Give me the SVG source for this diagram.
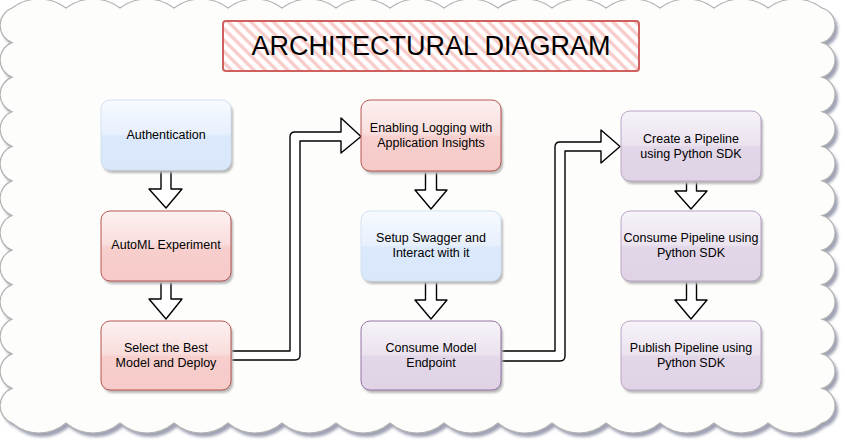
<svg xmlns="http://www.w3.org/2000/svg" width="845" height="446" viewBox="0 0 845 446">
<defs>
<style>
.lbl{font-family:"Liberation Sans","DejaVu Sans",sans-serif;font-size:12.5px;fill:#000;text-anchor:middle;dominant-baseline:central}
.title{font-family:"Liberation Sans","DejaVu Sans",sans-serif;font-size:27px;fill:#000;text-anchor:middle;dominant-baseline:central}
.shadow{fill:#b8b8b8}
.arrow{fill:#fff;stroke:#000;stroke-width:1.4;stroke-linejoin:round}
.blue{fill:url(#gBlue);stroke:#d3e0f3;stroke-width:1}
.red{fill:url(#gRed);stroke:#b85450;stroke-width:1}
.purple{fill:url(#gPurple);stroke:#9673a6;stroke-width:1}
.purple2{fill:url(#gPurple);stroke:#b9a4c5;stroke-width:1}
</style>
<linearGradient id="gBlue" x1="0" y1="0" x2="0" y2="1">
<stop offset="0" stop-color="#f7faff"/><stop offset="0.48" stop-color="#e8f0fc"/><stop offset="0.52" stop-color="#dce9fc"/><stop offset="1" stop-color="#d9e7fb"/>
</linearGradient>
<linearGradient id="gRed" x1="0" y1="0" x2="0" y2="1">
<stop offset="0" stop-color="#fdf1f1"/><stop offset="0.48" stop-color="#f9dddc"/><stop offset="0.52" stop-color="#f7cfcd"/><stop offset="1" stop-color="#f6cac8"/>
</linearGradient>
<linearGradient id="gPurple" x1="0" y1="0" x2="0" y2="1">
<stop offset="0" stop-color="#f7f3f9"/><stop offset="0.48" stop-color="#ebe3ef"/><stop offset="0.52" stop-color="#e2d7e8"/><stop offset="1" stop-color="#dfd3e5"/>
</linearGradient>
<pattern id="hatch" width="8" height="8" patternUnits="userSpaceOnUse" patternTransform="rotate(-45)">
<rect width="8" height="8" fill="#ffffff"/>
<line x1="2" y1="0" x2="2" y2="8" stroke="#f7c9c7" stroke-width="3.2"/>
</pattern>
<filter id="blur" x="-5%" y="-5%" width="110%" height="110%"><feGaussianBlur stdDeviation="1.5"/></filter>
<filter id="nblur" x="-10%" y="-10%" width="120%" height="130%"><feGaussianBlur stdDeviation="0.8"/></filter>
</defs>

<g id="cloud">
<path transform="translate(3,4)" filter="url(#blur)" fill="#9ea1b4" d="M12 8a45 45 0 0 1 54 0a45 45 0 0 1 54 0a45 45 0 0 1 54 0a45 45 0 0 1 54 0a45 45 0 0 1 54 0a45 45 0 0 1 54 0a45 45 0 0 1 54 0a45 45 0 0 1 54 0a45 45 0 0 1 54 0a45 45 0 0 1 54 0a45 45 0 0 1 54 0a45 45 0 0 1 54 0a45 45 0 0 1 54 0a45 45 0 0 1 54 0a45 45 0 0 1 54 0a18 18 0 0 1 0 34.583a18 18 0 0 1 0 34.583a18 18 0 0 1 0 34.583a18 18 0 0 1 0 34.583a18 18 0 0 1 0 34.583a18 18 0 0 1 0 34.583a18 18 0 0 1 0 34.583a18 18 0 0 1 0 34.583a18 18 0 0 1 0 34.583a18 18 0 0 1 0 34.583a18 18 0 0 1 0 34.583a18 18 0 0 1 0 34.583a41.5 41.5 0 0 1 -54 0a41.5 41.5 0 0 1 -54 0a41.5 41.5 0 0 1 -54 0a41.5 41.5 0 0 1 -54 0a41.5 41.5 0 0 1 -54 0a41.5 41.5 0 0 1 -54 0a41.5 41.5 0 0 1 -54 0a41.5 41.5 0 0 1 -54 0a41.5 41.5 0 0 1 -54 0a41.5 41.5 0 0 1 -54 0a41.5 41.5 0 0 1 -54 0a41.5 41.5 0 0 1 -54 0a41.5 41.5 0 0 1 -54 0a41.5 41.5 0 0 1 -54 0a41.5 41.5 0 0 1 -54 0a18.5 18.5 0 0 1 0 -34.583a18.5 18.5 0 0 1 0 -34.583a18.5 18.5 0 0 1 0 -34.583a18.5 18.5 0 0 1 0 -34.583a18.5 18.5 0 0 1 0 -34.583a18.5 18.5 0 0 1 0 -34.583a18.5 18.5 0 0 1 0 -34.583a18.5 18.5 0 0 1 0 -34.583a18.5 18.5 0 0 1 0 -34.583a18.5 18.5 0 0 1 0 -34.583a18.5 18.5 0 0 1 0 -34.583a18.5 18.5 0 0 1 0 -34.583z"/>
<path fill="#fdfdfc" stroke="#b3b3b3" stroke-width="1.2" d="M12 8a45 45 0 0 1 54 0a45 45 0 0 1 54 0a45 45 0 0 1 54 0a45 45 0 0 1 54 0a45 45 0 0 1 54 0a45 45 0 0 1 54 0a45 45 0 0 1 54 0a45 45 0 0 1 54 0a45 45 0 0 1 54 0a45 45 0 0 1 54 0a45 45 0 0 1 54 0a45 45 0 0 1 54 0a45 45 0 0 1 54 0a45 45 0 0 1 54 0a45 45 0 0 1 54 0a18 18 0 0 1 0 34.583a18 18 0 0 1 0 34.583a18 18 0 0 1 0 34.583a18 18 0 0 1 0 34.583a18 18 0 0 1 0 34.583a18 18 0 0 1 0 34.583a18 18 0 0 1 0 34.583a18 18 0 0 1 0 34.583a18 18 0 0 1 0 34.583a18 18 0 0 1 0 34.583a18 18 0 0 1 0 34.583a18 18 0 0 1 0 34.583a41.5 41.5 0 0 1 -54 0a41.5 41.5 0 0 1 -54 0a41.5 41.5 0 0 1 -54 0a41.5 41.5 0 0 1 -54 0a41.5 41.5 0 0 1 -54 0a41.5 41.5 0 0 1 -54 0a41.5 41.5 0 0 1 -54 0a41.5 41.5 0 0 1 -54 0a41.5 41.5 0 0 1 -54 0a41.5 41.5 0 0 1 -54 0a41.5 41.5 0 0 1 -54 0a41.5 41.5 0 0 1 -54 0a41.5 41.5 0 0 1 -54 0a41.5 41.5 0 0 1 -54 0a41.5 41.5 0 0 1 -54 0a18.5 18.5 0 0 1 0 -34.583a18.5 18.5 0 0 1 0 -34.583a18.5 18.5 0 0 1 0 -34.583a18.5 18.5 0 0 1 0 -34.583a18.5 18.5 0 0 1 0 -34.583a18.5 18.5 0 0 1 0 -34.583a18.5 18.5 0 0 1 0 -34.583a18.5 18.5 0 0 1 0 -34.583a18.5 18.5 0 0 1 0 -34.583a18.5 18.5 0 0 1 0 -34.583a18.5 18.5 0 0 1 0 -34.583a18.5 18.5 0 0 1 0 -34.583z"/>
</g>

<g id="title">
<rect x="223" y="21" width="416" height="50" rx="3" fill="url(#hatch)" stroke="#d0605e" stroke-width="2"/>
<text class="title" x="431" y="46">ARCHITECTURAL DIAGRAM</text>
</g>

<g id="connectors">
<path class="arrow" d="M161 171V189H149L166 208L182 189H171V171Z"/>
<path class="arrow" d="M161 281V299H149L166 319L182 299H171V281Z"/>
<path class="arrow" d="M425.5 171V190H415L431 209L447 190H436.5V171Z"/>
<path class="arrow" d="M425.5 281V300H415L431 319L447 300H436.5V281Z"/>
<path class="arrow" d="M686.5 181V191H675L691 209L707 191H696.5V181Z"/>
<path class="arrow" d="M686.5 281V300H675L691 319L707 300H696.5V281Z"/>
<path class="arrow" d="M231 351H290V137Q290 132 295 132H341V118L361 136.5L341 153V141H300V355Q300 360 295 360H231Z"/>
<path class="arrow" d="M501 351H555V147Q555 142 560 142H601V130L620 146.5L601 163V151H565V356Q565 361 560 361H501Z"/>
</g>

<g id="n-auth">
<rect class="shadow" filter="url(#nblur)" x="103" y="103" width="130" height="70" rx="9"/>
<rect class="blue" x="101" y="100" width="130" height="70" rx="9"/>
<text class="lbl" x="166" y="135">Authentication</text>
</g>
<g id="n-automl">
<rect class="shadow" filter="url(#nblur)" x="103" y="214" width="130" height="70" rx="9"/>
<rect class="red" x="101" y="211" width="130" height="70" rx="9"/>
<text class="lbl" x="166" y="245">AutoML Experiment</text>
</g>
<g id="n-select">
<rect class="shadow" filter="url(#nblur)" x="103" y="324" width="130" height="69" rx="9"/>
<rect class="red" x="101" y="321" width="130" height="69" rx="9"/>
<text class="lbl" x="166" y="348">Select the Best</text>
<text class="lbl" x="166" y="363">Model and Deploy</text>
</g>
<g id="n-logging">
<rect class="shadow" filter="url(#nblur)" x="363" y="103" width="140" height="71" rx="9"/>
<rect class="red" x="361" y="100" width="140" height="71" rx="9"/>
<text class="lbl" x="431" y="128">Enabling Logging with</text>
<text class="lbl" x="431" y="143">Application Insights</text>
</g>
<g id="n-swagger">
<rect class="shadow" filter="url(#nblur)" x="363" y="214" width="140" height="70" rx="9"/>
<rect class="blue" x="361" y="211" width="140" height="70" rx="9"/>
<text class="lbl" x="431" y="238">Setup Swagger and</text>
<text class="lbl" x="431" y="253">Interact with it</text>
</g>
<g id="n-endpoint">
<rect class="shadow" filter="url(#nblur)" x="363" y="324" width="140" height="69" rx="9"/>
<rect class="purple" x="361" y="321" width="140" height="69" rx="9"/>
<text class="lbl" x="431" y="348">Consume Model</text>
<text class="lbl" x="431" y="363">Endpoint</text>
</g>
<g id="n-create">
<rect class="shadow" filter="url(#nblur)" x="623" y="114" width="140" height="70" rx="9"/>
<rect class="purple2" x="621" y="111" width="140" height="70" rx="9"/>
<text class="lbl" x="691" y="139">Create a Pipeline</text>
<text class="lbl" x="691" y="154">using Python SDK</text>
</g>
<g id="n-consume">
<rect class="shadow" filter="url(#nblur)" x="623" y="214" width="140" height="70" rx="9"/>
<rect class="purple2" x="621" y="211" width="140" height="70" rx="9"/>
<text class="lbl" x="691" y="238">Consume Pipeline using</text>
<text class="lbl" x="691" y="253">Python SDK</text>
</g>
<g id="n-publish">
<rect class="shadow" filter="url(#nblur)" x="623" y="324" width="140" height="69" rx="9"/>
<rect class="purple2" x="621" y="321" width="140" height="69" rx="9"/>
<text class="lbl" x="691" y="348">Publish Pipeline using</text>
<text class="lbl" x="691" y="363">Python SDK</text>
</g>
</svg>
